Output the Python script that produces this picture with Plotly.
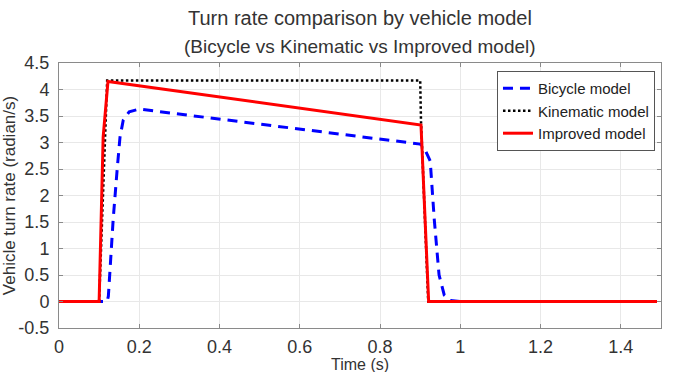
import plotly.graph_objects as go

# Data
t_bicycle = [0.0, 0.12, 0.123, 0.135, 0.145, 0.152, 0.16, 0.175, 0.2, 0.9, 0.91, 0.925,
             0.935, 0.947, 0.96, 0.975, 1.0, 1.49]
v_bicycle = [0.0, 0.0, 0.1, 1.55, 2.5, 3.1, 3.42, 3.58, 3.63, 2.97, 2.9, 2.65,
             1.55, 0.5, 0.12, 0.02, 0.0, 0.0]

t_kinematic = [0.0, 0.1, 0.12, 0.9, 0.902, 0.92, 1.49]
v_kinematic = [0.0, 0.0, 4.17, 4.17, 3.4, 0.0, 0.0]

t_improved = [0.0, 0.1, 0.11, 0.122, 0.902, 0.921, 1.49]
v_improved = [0.0, 0.0, 3.1, 4.15, 3.33, 0.0, 0.0]

x_ticks = [0, 0.2, 0.4, 0.6, 0.8, 1, 1.2, 1.4]
x_tick_labels = ["0", "0.2", "0.4", "0.6", "0.8", "1", "1.2", "1.4"]
y_ticks = [-0.5, 0, 0.5, 1, 1.5, 2, 2.5, 3, 3.5, 4, 4.5]
y_tick_labels = ["-0.5", "0", "0.5", "1", "1.5", "2", "2.5", "3", "3.5", "4", "4.5"]

title_line1 = "Turn rate comparison by vehicle model"
title_line2 = "(Bicycle vs Kinematic vs Improved model)"
x_title = "Time (s)"
y_title = "Vehicle turn rate (radian/s)"

FONT = "Liberation Sans, Arial, sans-serif"
TXT = "#333333"
AX = "#8a8a8a"

fig = go.Figure()
fig.add_trace(go.Scatter(x=t_bicycle, y=v_bicycle, mode="lines", name="Bicycle model",
                         line=dict(color="#0000ff", width=3, dash="10px,7px")))
fig.add_trace(go.Scatter(x=t_kinematic, y=v_kinematic, mode="lines", name="Kinematic model",
                         line=dict(color="#000000", width=2.5, dash="2.5px,2.5px")))
fig.add_trace(go.Scatter(x=t_improved, y=v_improved, mode="lines", name="Improved model",
                         line=dict(color="#ff0000", width=3)))

axis_common = dict(showline=True, linecolor=AX, linewidth=1, mirror="ticks",
                   ticks="inside", ticklen=4, tickcolor=AX,
                   showgrid=True, gridcolor="#e8e8e8", gridwidth=1,
                   zeroline=False, tickfont=dict(family=FONT, size=18, color=TXT))

fig.update_xaxes(range=[0, 1.5], tickvals=x_ticks, ticktext=x_tick_labels,
                 ticklabelstandoff=2, **axis_common)
fig.update_yaxes(range=[-0.5, 4.5], tickvals=y_ticks, ticktext=y_tick_labels,
                 title=dict(text=y_title, font=dict(family=FONT, size=17, color=TXT), standoff=1),
                 ticklabelstandoff=5, **axis_common)

# x-axis title placed just below the tick labels, at the bottom edge as in the reference
fig.add_annotation(text=x_title, xref="paper", yref="paper", x=0.5, y=-0.137,
                   xanchor="center", yanchor="middle", showarrow=False,
                   font=dict(family=FONT, size=16, color=TXT))

fig.add_annotation(text=title_line1, xref="paper", yref="paper", x=0.5, y=1.17,
                   xanchor="center", yanchor="middle", showarrow=False,
                   font=dict(family=FONT, size=20, color=TXT))
fig.add_annotation(text=title_line2, xref="paper", yref="paper", x=0.5, y=1.064,
                   xanchor="center", yanchor="middle", showarrow=False,
                   font=dict(family=FONT, size=19, color=TXT))

fig.update_layout(
    width=673, height=372,
    margin=dict(l=59, r=12, t=63, b=44, autoexpand=False),
    paper_bgcolor="white", plot_bgcolor="white",
    showlegend=True,
    legend=dict(x=0.99, y=0.97, xanchor="right", yanchor="top",
                bgcolor="white", bordercolor="#555555", borderwidth=1,
                font=dict(family=FONT, size=15, color="#222222"),
                itemwidth=30, tracegroupgap=0),
)

fig.write_html("out.html")
